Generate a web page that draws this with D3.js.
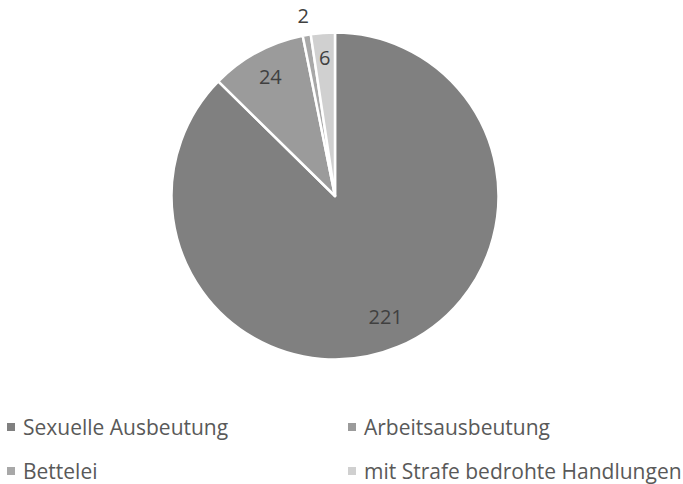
<!DOCTYPE html>
<html>
<head>
<meta charset="utf-8">
<script src="https://cdn.jsdelivr.net/npm/d3@7"></script>
<style>
  body { margin: 0; background: #fff; }
  text { font-family: "Open Sans", "Liberation Sans", sans-serif; }
</style>
</head>
<body>
<div class="chart"></div>
<script>
// data
const categories = ["Sexuelle Ausbeutung", "Arbeitsausbeutung", "Bettelei", "mit Strafe bedrohte Handlungen"];
const values = [221, 24, 2, 6];
const colors = ["#808080", "#9b9b9b", "#a8a8a8", "#d0d0d0"];
// label distance from centre, as share of radius (Excel "best fit" style)
const labelPos = [0.8, 0.83, 1.12, 0.85];

const width = 683, height = 484;
const cx = 335, cy = 196, radius = 163.5;

const svg = d3.select(".chart")
    .append("svg")
        .attr("width", width)
        .attr("height", height);

const rows = categories.map((c, i) => ({name: c, value: values[i], color: colors[i], lp: labelPos[i]}));

const pie = d3.pie()
    .value(d => d.value)
    .sort(null);

const arcs = pie(rows);

const arc = d3.arc()
    .innerRadius(0)
    .outerRadius(radius);

const g = svg.append("g")
    .attr("transform", "translate(" + cx + "," + cy + ")");

g.selectAll("path")
    .data(arcs)
    .enter()
    .append("path")
        .attr("d", arc)
        .attr("fill", d => d.data.color)
        .attr("stroke", "#fff")
        .attr("stroke-width", 2.5)
        .attr("stroke-linejoin", "round");

// value labels
g.selectAll("text.val")
    .data(arcs)
    .enter()
    .append("text")
        .attr("class", "val")
        .attr("transform", d => {
            const r = radius * d.data.lp;
            const a = d3.arc().innerRadius(r).outerRadius(r);
            return "translate(" + a.centroid(d) + ")";
        })
        .attr("text-anchor", "middle")
        .attr("dy", "0.36em")
        .attr("font-size", 20)
        .attr("fill", "#404040")
        .text(d => d.data.value);

// legend, two columns
const legendX = d3.scaleOrdinal().domain([0, 1]).range([7, 348]);
const legendY = d3.scaleOrdinal().domain([0, 1]).range([427, 471]);

const leg = svg.append("g")
    .selectAll("g")
    .data(rows)
    .enter()
    .append("g")
        .attr("transform", (d, i) => "translate(" + legendX(i % 2) + "," + legendY(Math.floor(i / 2)) + ")");

leg.append("rect")
    .attr("x", 0)
    .attr("y", -4)
    .attr("width", 8)
    .attr("height", 8)
    .attr("fill", d => d.color);

leg.append("text")
    .attr("x", 16)
    .attr("y", 8)
    .attr("font-size", 21)
    .attr("fill", "#595959")
    .text(d => d.name);
</script>
</body>
</html>
